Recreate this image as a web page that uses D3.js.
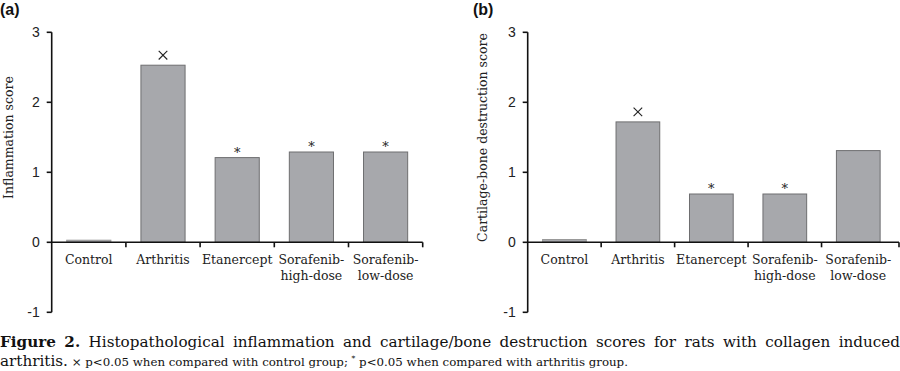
<!DOCTYPE html>
<html><head><meta charset="utf-8">
<script src="https://cdn.jsdelivr.net/npm/d3@7"></script>
<style>body{margin:0;background:#fff}svg{display:block}</style>
</head><body>
<svg id="c" width="900" height="371"></svg>
<script>
const categories = [["Control"],["Arthritis"],["Etanercept"],["Sorafenib-","high-dose"],["Sorafenib-","low-dose"]];
const inflammation = [0.03, 2.53, 1.21, 1.29, 1.29];
const destruction = [0.04, 1.72, 0.69, 0.69, 1.31];
const inflMarks = ["", "×", "*", "*", "*"];
const destMarks = ["", "×", "*", "*", ""];
const yTicks = [-1, 0, 1, 2, 3];

const svg = d3.select("#c");
const serif = "'DejaVu Serif', serif";

function panel(o){
  const g = svg.append("g");
  const y = d3.scaleLinear().domain([-1,3]).range([312.3, 32.3]);
  const x = d3.scaleBand().domain(d3.range(categories.length)).range([o.x0, o.bandEnd]).padding(0);
  const bw = x.bandwidth()*0.595;
  g.selectAll("rect.bar").data(o.values).join("rect")
    .attr("x",(d,i)=>x(i)+x.bandwidth()/2-bw/2)
    .attr("y",d=>y(d))
    .attr("width",bw)
    .attr("height",d=>y(0)-y(d))
    .attr("fill","#a7a8ac")
    .attr("stroke",(d)=> d<0.1 ? "#999" : "#6e6e70")
    .attr("stroke-width",1);
  o.marks.forEach((m,i)=>{
    const cxm = x(i)+x.bandwidth()/2, top = y(o.values[i]);
    if(m==="×"){
      g.append("path").attr("d", d3.symbol(d3.symbolX, 50)())
        .attr("transform",`translate(${cxm},${top-10})`)
        .attr("fill","none").attr("stroke","#222").attr("stroke-width",1.1);
    } else if(m==="*"){
      g.append("text").attr("x",cxm).attr("y",top-1).attr("text-anchor","middle")
        .attr("font-family",serif).attr("font-size",13).attr("fill","#222").text(m);
    }
  });
  g.append("line").attr("x1",o.x0).attr("x2",o.x0).attr("y1",y(3)).attr("y2",y(-1))
    .attr("stroke","#111").attr("stroke-width",1.6);
  g.selectAll("line.yt").data(yTicks).join("line")
    .attr("x1",o.x0-5).attr("x2",o.x0).attr("y1",d=>y(d)).attr("y2",d=>y(d))
    .attr("stroke","#111").attr("stroke-width",1.6);
  g.selectAll("text.yl").data(yTicks).join("text")
    .attr("x",o.x0-12).attr("y",d=>y(d)+5)
    .attr("text-anchor","end").attr("font-family","'Liberation Sans', sans-serif").attr("font-size",14).attr("fill","#222")
    .text(d=>d);
  g.append("line").attr("x1",o.x0).attr("x2",o.axisEnd).attr("y1",y(0)).attr("y2",y(0))
    .attr("stroke","#111").attr("stroke-width",1.6);
  const bounds = d3.range(1,categories.length).map(i=>x(i)).concat([o.axisEnd]);
  g.selectAll("line.xt").data(bounds).join("line")
    .attr("x1",d=>d).attr("x2",d=>d).attr("y1",y(0)).attr("y2",y(0)+5)
    .attr("stroke","#111").attr("stroke-width",1.6);
  const lab = g.selectAll("text.xl").data(categories).join("text")
    .attr("text-anchor","middle").attr("font-family",serif).attr("font-size",12.5).attr("fill","#222");
  lab.each(function(d,i){
    d3.select(this).selectAll("tspan").data(d).join("tspan")
      .attr("x",x(i)+x.bandwidth()/2)
      .attr("y",(t,j)=>y(0)+22+j*16)
      .text(t=>t);
  });
  g.append("text").attr("transform",`translate(${o.titleX},137.5) rotate(-90)`)
    .attr("text-anchor","middle").attr("font-family",serif).attr("font-size",12.5).attr("fill","#222")
    .text(o.title);
  g.append("text").attr("x",o.labelX).attr("y",15).attr("font-family","'Liberation Sans', Arial, sans-serif")
    .attr("font-weight","bold").attr("font-size",16).attr("fill","#111").text(o.label);
}

panel({x0:51.7, bandEnd:422.7, axisEnd:422.7, values:inflammation, marks:inflMarks,
  title:"Inflammation score", titleX:13, label:"(a)", labelX:0});
panel({x0:527.7, bandEnd:895, axisEnd:899, values:destruction, marks:destMarks,
  title:"Cartilage-bone destruction score", titleX:487, label:"(b)", labelX:473});

const words = ["Figure","2.","Histopathological","inflammation","and","cartilage/bone","destruction","scores","for","rats","with","collagen","induced"];
const cap = svg.append("g").attr("font-family",serif).attr("font-size",15.2).attr("fill","#111");
const nodes = words.map((w,i)=>cap.append("text").attr("y",347).attr("font-weight",i<2?"bold":"normal").text(w));
const widths = nodes.map(n=>n.node().getComputedTextLength());
const total = d3.sum(widths);
const gap = (900 - total)/(words.length-1);
let cx = 0;
nodes.forEach((n,i)=>{ n.attr("x",cx); cx += widths[i]+gap; });

const l2 = svg.append("text").attr("x",0).attr("y",366).attr("font-family",serif).attr("fill","#111");
l2.append("tspan").attr("font-size",15.2).text("arthritis.");
l2.append("tspan").attr("font-size",11.8).text(" × p<0.05 when compared with control group; ");
l2.append("tspan").attr("font-size",7.5).attr("dy",-5).text("*");
l2.append("tspan").attr("font-size",11.8).attr("dy",5).text(" p<0.05 when compared with arthritis group.");
</script>
</body></html>
